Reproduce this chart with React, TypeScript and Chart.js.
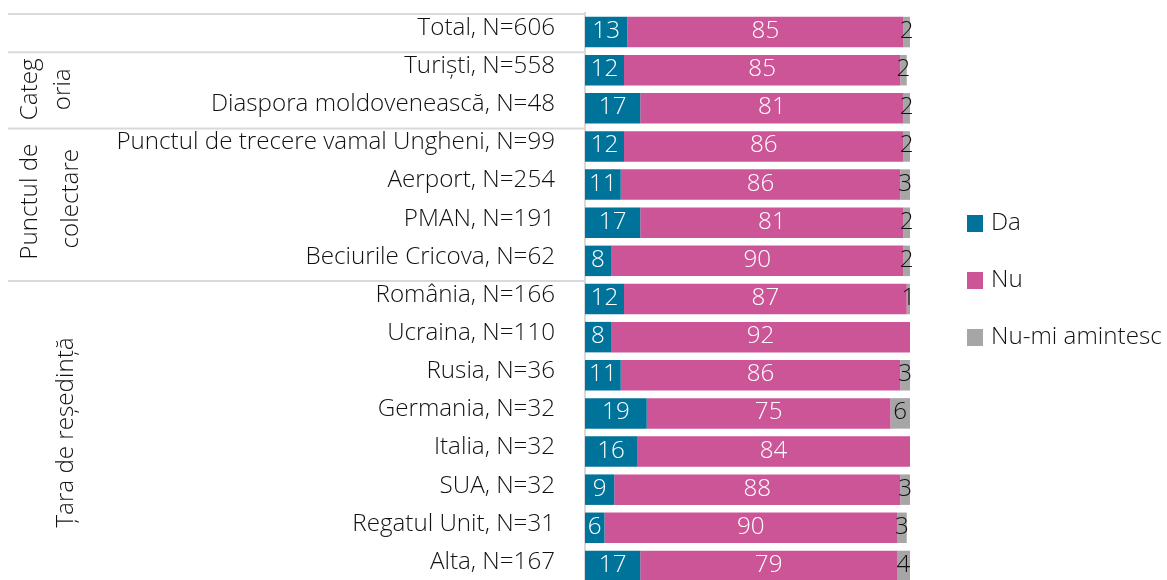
import React, { useEffect, useRef } from "react";
import { Chart, registerables } from "chart.js";

Chart.register(...registerables);

const categories = [
  "Total, N=606",
  "Turiști, N=558",
  "Diaspora moldovenească, N=48",
  "Punctul de trecere vamal Ungheni, N=99",
  "Aerport, N=254",
  "PMAN, N=191",
  "Beciurile Cricova, N=62",
  "România, N=166",
  "Ucraina, N=110",
  "Rusia, N=36",
  "Germania, N=32",
  "Italia, N=32",
  "SUA, N=32",
  "Regatul Unit, N=31",
  "Alta, N=167",
];
const da = [13, 12, 17, 12, 11, 17, 8, 12, 8, 11, 19, 16, 9, 6, 17];
const nu = [85, 85, 81, 86, 86, 81, 90, 87, 92, 86, 75, 84, 88, 90, 79];
const nuMiAmintesc = [2, 2, 2, 2, 3, 2, 2, 1, 0, 3, 6, 0, 3, 3, 4];
const seriesNames = ["Da", "Nu", "Nu-mi amintesc"];
const seriesColors = ["#00739a", "#cc5597", "#a6a6a6"];
const labelColors = ["#ffffff", "#ffffff", "#111111"];

const groupLines = [[], ["Categ", "oria"], ["Punctul de", "colectare"], ["Țara de reședință"]];
const groupStart = [0, 1, 3, 7];
const groupEnd = [0, 2, 6, 14];

const FONT = "'Open Sans', sans-serif";
const FSIZE = 24.2;
const WEIGHT = 300;
const TEXT = "#111111";

// baseline x positions (rotated text) and centre shifts for each group's lines
const groupBaselines = [[], [37, 70], [37, 78], [73]];
const groupShift = [[], [0, 0], [-2, -5], [0]];

const groupPlugin = {
  id: "groups",
  afterDraw(chart: any) {
    const ctx = chart.ctx;
    const y = chart.scales.y;
    const area = chart.chartArea;
    const step = y.getPixelForValue(1) - y.getPixelForValue(0);
    ctx.save();
    ctx.strokeStyle = "#d9d9d9";
    ctx.lineWidth = 2;
    for (let g = 0; g < groupStart.length; g++) {
      const top = y.getPixelForValue(groupStart[g]) - step / 2 + 1;
      ctx.beginPath();
      ctx.moveTo(8, top);
      ctx.lineTo(area.left, top);
      ctx.stroke();
      const lines = groupLines[g];
      if (!lines.length) continue;
      const cy = (y.getPixelForValue(groupStart[g]) + y.getPixelForValue(groupEnd[g])) / 2;
      ctx.fillStyle = TEXT;
      ctx.font = `${WEIGHT} ${FSIZE}px ${FONT}`;
      ctx.textAlign = "center";
      ctx.textBaseline = "alphabetic";
      lines.forEach((t, i) => {
        ctx.save();
        ctx.translate(groupBaselines[g][i], cy + groupShift[g][i]);
        ctx.rotate(-Math.PI / 2);
        ctx.fillText(t, 0, 0);
        ctx.restore();
      });
    }
    ctx.restore();
  },
};

const valuePlugin = {
  id: "values",
  afterDatasetsDraw(chart: any) {
    const ctx = chart.ctx;
    ctx.save();
    ctx.font = `${WEIGHT} ${FSIZE}px ${FONT}`;
    ctx.textAlign = "center";
    ctx.textBaseline = "alphabetic";
    chart.data.datasets.forEach((ds: any, di: number) => {
      const meta = chart.getDatasetMeta(di);
      meta.data.forEach((bar: any, i: number) => {
        const v = ds.data[i];
        if (!v) return;
        ctx.fillStyle = labelColors[di];
        ctx.fillText(String(v), (bar.x + bar.base) / 2, bar.y + 6);
      });
    });
    ctx.restore();
  },
};

const legendPlugin = {
  id: "customLegend",
  afterDraw(chart: any) {
    const ctx = chart.ctx;
    ctx.save();
    ctx.font = `${WEIGHT} ${FSIZE}px ${FONT}`;
    ctx.textAlign = "left";
    ctx.textBaseline = "alphabetic";
    chart.data.datasets.forEach((ds: any, i: number) => {
      const top = 215 + i * 57;
      ctx.fillStyle = ds.backgroundColor;
      ctx.fillRect(967, top, 16, 17);
      ctx.fillStyle = TEXT;
      ctx.fillText(ds.label, 991, top + 15);
    });
    ctx.restore();
  },
};

export default function App() {
  const ref = useRef<HTMLCanvasElement>(null);
  useEffect(() => {
    if (!ref.current) return;
    const series = [da, nu, nuMiAmintesc];
    const chart = new Chart(ref.current, {
      type: "bar",
      data: {
        labels: categories,
        datasets: series.map((d, i) => ({
          label: seriesNames[i],
          data: d,
          backgroundColor: seriesColors[i],
          borderWidth: 0,
          barPercentage: 0.8,
          categoryPercentage: 1,
        })),
      },
      options: {
        indexAxis: "y",
        responsive: false,
        animation: false,
        devicePixelRatio: 1,
        layout: { padding: { top: 13, right: 257, bottom: 1, left: 0 } },
        plugins: { legend: { display: false }, tooltip: { enabled: false } },
        scales: {
          x: { stacked: true, min: 0, max: 100, display: false },
          y: {
            stacked: true,
            afterFit: (s: any) => {
              s.width = 585;
              s.paddingTop = 0;
              s.paddingBottom = 0;
            },
            grid: { display: false, drawTicks: false },
            border: { display: true, color: "#d9d9d9", width: 2 },
            ticks: {
              padding: 30,
              labelOffset: -4,
              color: TEXT,
              font: { family: FONT, size: FSIZE, weight: WEIGHT as any },
            },
          },
        },
      },
      plugins: [valuePlugin, groupPlugin, legendPlugin],
    });
    return () => chart.destroy();
  }, []);
  return (
    <div style={{ position: "absolute", left: 0, top: 0, width: 1167, height: 580, overflow: "hidden", background: "#fff" }}>
      <canvas ref={ref} width={1167} height={586} style={{ display: "block" }} />
    </div>
  );
}
